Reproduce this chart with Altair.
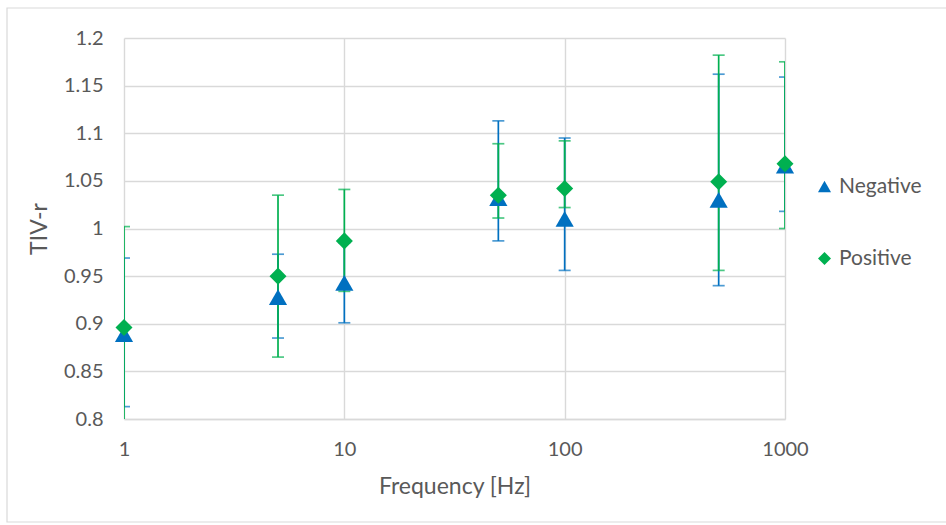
import altair as alt
import pandas as pd

freq = [1, 5, 10, 50, 100, 500, 1000]
series_names = ["Negative", "Positive"]

neg_mean = [0.889, 0.928, 0.943, 1.032, 1.010, 1.030, 1.066]
neg_lo = [0.813, 0.885, 0.901, 0.987, 0.956, 0.940, 1.018]
neg_hi = [0.969, 0.973, 0.985, 1.113, 1.095, 1.162, 1.159]

pos_mean = [0.896, 0.950, 0.987, 1.035, 1.042, 1.049, 1.068]
pos_lo = [0.790, 0.865, 0.934, 1.011, 1.022, 0.956, 1.000]
pos_hi = [1.002, 1.035, 1.041, 1.089, 1.092, 1.182, 1.175]

colors = ["#0070C0", "#00B050"]
shapes = ["triangle-up", "diamond"]
marker_sizes = [330, 290]

rows = []
for name, m, lo, hi in [("Negative", neg_mean, neg_lo, neg_hi), ("Positive", pos_mean, pos_lo, pos_hi)]:
    for f, a, b, c in zip(freq, m, lo, hi):
        rows.append({"freq": f, "series": name, "mean": a, "lo": b, "hi": c})
df = pd.DataFrame(rows)

FONT = "Lato"
TXT = "#595959"
GRID = "#D9D9D9"

xscale = alt.Scale(type="log", domain=[1, 1000], nice=False)
yscale = alt.Scale(domain=[0.8, 1.2], nice=False, zero=False)

xaxis = alt.Axis(values=[1, 10, 100, 1000], format="~g", title="Frequency [Hz]",
                 grid=True, gridColor=GRID, gridWidth=1.4, domainColor=GRID, domainWidth=1.4,
                 ticks=False, labelPadding=20, titlePadding=16, labelFontSize=20,
                 titleFontSize=23, labelColor=TXT, titleColor=TXT, labelFont=FONT,
                 titleFont=FONT, titleFontWeight="normal", labelFlush=False)
yaxis = alt.Axis(values=[0.8, 0.85, 0.9, 0.95, 1.0, 1.05, 1.1, 1.15, 1.2], format="~g",
                 title="TIV-r", grid=True, gridColor=GRID, gridWidth=1.4, domain=False,
                 ticks=False, labelPadding=21, titlePadding=12, labelFontSize=20,
                 titleFontSize=23, labelColor=TXT, titleColor=TXT, labelFont=FONT,
                 titleFont=FONT, titleFontWeight="normal")

base = alt.Chart(df)

frame = base.mark_rect(fill="transparent", stroke="#D9D9D9", strokeWidth=1.2, clip=False).encode(
    x=alt.value(-117), x2=alt.value(830), y=alt.value(-30), y2=alt.value(484)
).transform_filter("datum.freq == 1 && datum.series == 'Negative'")

layers = [frame]
for name, col in zip(series_names, colors):
    sub = base.transform_filter(alt.datum.series == name)
    rule = sub.mark_rule(color=col, strokeWidth=1.7, clip=True).encode(
        x=alt.X("freq:Q", scale=xscale, axis=xaxis),
        y=alt.Y("lo:Q", scale=yscale, axis=yaxis),
        y2="hi:Q",
    )
    tick_lo = sub.mark_tick(color=col, orient="horizontal", size=12, thickness=1.7, clip=True).encode(
        x=alt.X("freq:Q", scale=xscale), y=alt.Y("lo:Q", scale=yscale))
    tick_hi = sub.mark_tick(color=col, orient="horizontal", size=12, thickness=1.7, clip=True).encode(
        x=alt.X("freq:Q", scale=xscale), y=alt.Y("hi:Q", scale=yscale))
    layers += [rule, tick_lo, tick_hi]

for name, msize in zip(series_names, marker_sizes):
    pts = base.transform_filter(alt.datum.series == name).mark_point(filled=True, opacity=1, size=msize).encode(
        x=alt.X("freq:Q", scale=xscale),
        y=alt.Y("mean:Q", scale=yscale),
        color=alt.Color("series:N", scale=alt.Scale(domain=series_names, range=colors),
                        legend=alt.Legend(title=None, orient="none", legendX=690, legendY=138,
                                          rowPadding=50, labelFontSize=21, labelColor=TXT,
                                          labelFont=FONT, symbolSize=170, labelOffset=4)),
        shape=alt.Shape("series:N", scale=alt.Scale(domain=series_names, range=shapes)),
    )
    layers.append(pts)

chart = alt.layer(*layers).properties(
    width=661, height=381,
    autosize=alt.AutoSizeParams(type="none"),
    padding={"left": 124, "top": 38, "right": 161, "bottom": 106},
    background="white",
).configure_view(stroke=None)

chart.save("out.html", embed_options={"renderer": "svg", "actions": False})
